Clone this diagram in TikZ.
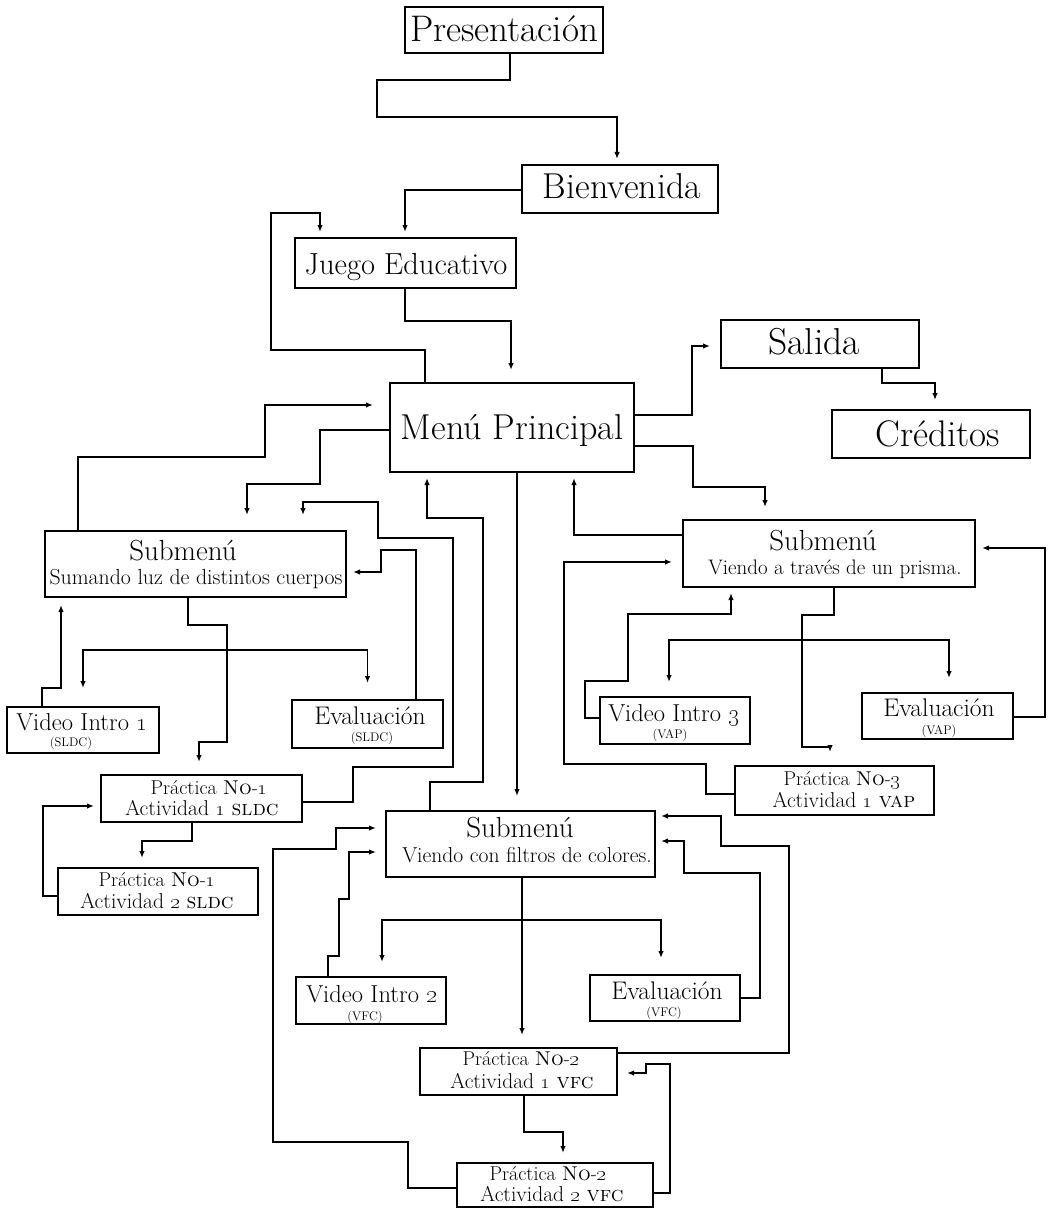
\documentclass[tikz,border=0pt]{standalone}
\usetikzlibrary{arrows.meta}

\newcommand{\fs}[1]{\fontsize{#1}{#1}\selectfont}

\tikzset{
  boxnode/.style={draw, line width=2.1pt, inner sep=0pt, outer sep=0pt},
  lbl/.style={anchor=base, inner sep=0pt, outer sep=0pt},
  small/.style={lbl, font=\fs{12.5}},
  conn/.style={line width=1.8pt},
  arr/.style={conn, -{Latex[length=7pt,width=5.5pt]}, shorten >=#1},
  arr/.default=10pt
}

\begin{document}
\begin{tikzpicture}[x=1pt, y=-1pt]
\fill[white] (0,0) rectangle (1050,1209);
\useasboundingbox (0,0) rectangle (1050,1209);

% ---------- boxes ----------
\node[boxnode, minimum width=198pt, minimum height=46pt] (pres)   at (504,30)     {};
\node[boxnode, minimum width=196pt, minimum height=48pt] (bien)   at (620,189)    {};
\node[boxnode, minimum width=221pt, minimum height=50pt] (juego)  at (405.5,263)  {};
\node[boxnode, minimum width=244pt, minimum height=89pt] (menu)   at (512,427.5)  {};
\node[boxnode, minimum width=198pt, minimum height=48pt] (salida) at (820,344)    {};
\node[boxnode, minimum width=198pt, minimum height=48pt] (cred)   at (931,434)    {};

\node[boxnode, minimum width=301pt, minimum height=66pt] (subA) at (195.5,564)  {};
\node[boxnode, minimum width=292pt, minimum height=67pt] (subB) at (829,553.5)  {};
\node[boxnode, minimum width=269pt, minimum height=66pt] (subC) at (520.5,844)  {};

\node[boxnode, minimum width=152pt, minimum height=46pt] (vi1) at (83,730)      {};
\node[boxnode, minimum width=151pt, minimum height=48pt] (evA) at (367.5,724)   {};
\node[boxnode, minimum width=201pt, minimum height=47pt] (p11) at (201.5,798.5) {};
\node[boxnode, minimum width=200pt, minimum height=47pt] (p12) at (158,891.5)   {};

\node[boxnode, minimum width=150pt, minimum height=47pt] (vi3) at (675,720.5)   {};
\node[boxnode, minimum width=151pt, minimum height=46pt] (evB) at (937.5,716)   {};
\node[boxnode, minimum width=199pt, minimum height=49pt] (p3)  at (834.5,790.5) {};

\node[boxnode, minimum width=150pt, minimum height=47pt] (vi2) at (371,1000.5)  {};
\node[boxnode, minimum width=150pt, minimum height=46pt] (evC) at (665,998)     {};
\node[boxnode, minimum width=197pt, minimum height=47pt] (p21) at (518.5,1071.5){};
\node[boxnode, minimum width=196pt, minimum height=44pt] (p22) at (555,1185)    {};

% ---------- texts ----------
\node[lbl, font=\fs{37}]   (pres-t)   at (504,42)  {Presentación};
\node[lbl, font=\fs{36}]   (bien-t)   at (622,199) {Bienvenida};
\node[lbl, font=\fs{30.5}] (juego-t)  at (406,274) {Juego Educativo};
\node[lbl, font=\fs{36}]   (menu-t)   at (512,439) {Menú Principal};
\node[lbl, font=\fs{37.5}] (salida-t) at (814,354) {Salida};
\node[lbl, font=\fs{37}]   (cred-t)   at (938,446) {Créditos};

\node[lbl, font=\fs{29}]   (subA-t) at (183,560) {Submenú};
\node[lbl, font=\fs{21.8}] (subA-s) at (196,584) {Sumando luz de distintos cuerpos};
\node[lbl, font=\fs{29}]   (subB-t) at (823,550) {Submenú};
\node[lbl, font=\fs{21}]   (subB-s) at (835,574) {Viendo a través de un prisma.};
\node[lbl, font=\fs{29}]   (subC-t) at (520,837) {Submenú};
\node[lbl, font=\fs{21.6}] (subC-s) at (527,862) {Viendo con filtros de colores.};

\node[lbl, font=\fs{24.5}] (vi1-t) at (82,730)  {Video Intro \oldstylenums{1}};
\node[small]               (vi1-s) at (71,746)  {(SLDC)};
\node[lbl, font=\fs{25.5}] (evA-t) at (370,724) {Evaluación};
\node[small]               (evA-s) at (372,741) {(SLDC)};
\node[lbl, font=\fs{24.5}] (vi3-t) at (674,721) {Video Intro \oldstylenums{3}};
\node[small]               (vi3-s) at (670,738) {(VAP)};
\node[lbl, font=\fs{25.5}] (evB-t) at (939,716) {Evaluación};
\node[small]               (evB-s) at (939,734) {(VAP)};
\node[lbl, font=\fs{24.5}] (vi2-t) at (372,1002) {Video Intro \oldstylenums{2}};
\node[small]               (vi2-s) at (365,1020) {(VFC)};
\node[lbl, font=\fs{25.5}] (evC-t) at (667,999) {Evaluación};
\node[small]               (evC-s) at (664,1016) {(VFC)};

\node[lbl, font=\fs{20}]   (p11-t) at (209,794)  {Práctica \textsc{No}-\oldstylenums{1}};
\node[lbl, font=\fs{21.5}] (p11-s) at (202,815)  {Actividad \oldstylenums{1} \textsc{sldc}};
\node[lbl, font=\fs{20}]   (p12-t) at (157,886)  {Práctica \textsc{No}-\oldstylenums{1}};
\node[lbl, font=\fs{21.5}] (p12-s) at (157,908)  {Actividad \oldstylenums{2} \textsc{sldc}};
\node[lbl, font=\fs{20}]   (p21-t) at (521,1065) {Práctica \textsc{No}-\oldstylenums{2}};
\node[lbl, font=\fs{21.5}] (p21-s) at (522,1088) {Actividad \oldstylenums{1} \textsc{vfc}};
\node[lbl, font=\fs{20}]   (p22-t) at (548,1180) {Práctica \textsc{No}-\oldstylenums{2}};
\node[lbl, font=\fs{21.5}] (p22-s) at (552,1201) {Actividad \oldstylenums{2} \textsc{vfc}};
\node[lbl, font=\fs{20}]   (p3-t)  at (842,785)  {Práctica \textsc{No}-\oldstylenums{3}};
\node[lbl, font=\fs{21.5}] (p3-s)  at (844,807)  {Actividad \oldstylenums{1} \textsc{vap}};

% ---------- upper chain ----------
\draw[arr=6pt]  (pres.south -| 510,0) -- (510,80) -- (377,80) -- (377,117) -- (617,117) -- (bien.north -| 617,0);
\draw[arr=6pt]  (bien.west |- 0,190) -- (405,190) -- (juego.north -| 405,0);
\draw[arr=13pt] (juego.south -| 405,0) -- (405,321) -- (511,321) -- (menu.north -| 511,0);
\draw[arr=6pt]  (menu.north -| 425,0) -- (425,350) -- (271,350) -- (271,213) -- (320,213) -- (juego.north -| 320,0);
\draw[arr=11pt] (menu.east |- 0,415) -- (692,415) -- (692,346) -- (salida.west |- 0,346);
\draw[arr=10pt] (salida.south -| 882,0) -- (882,383) -- (935,383) -- (cred.north -| 935,0);

% ---------- main menu and submenus ----------
\draw[arr=13pt] (menu.east |- 0,446) -- (693,446) -- (693,487) -- (765,487) -- (subB.north -| 765,0);
\draw[arr=6pt]  (subB.west |- 0,535) -- (574,535) -- (menu.south -| 574,0);
\draw[arr=17pt] (subA.north -| 78,0) -- (78,457) -- (265,457) -- (265,405) -- (menu.west |- 0,405);
\draw[arr=16pt] (menu.west |- 0,430) -- (320,430) -- (320,484) -- (247,484) -- (subA.north -| 247,0);
\draw[arr=6pt]  (subC.north -| 430,0) -- (430,782) -- (483,782) -- (483,518) -- (427,518) -- (menu.south -| 427,0);
\draw[arr=15pt] (menu.south -| 517,0) -- (subC.north -| 517,0);

% ---------- branch: Sumando luz de distintos cuerpos ----------
\draw[arr=13pt] (subA.south -| 188,0) -- (188,625) -- (227,625) -- (227,742) -- (199,742) -- (p11.north -| 199,0);
\coordinate (splitA) at (227,650);
\draw[arr=19pt] (splitA) -| (vi1.north);
\draw[arr=17pt] (splitA) -| (evA.north);
\draw[arr=8pt]  (vi1.north -| 42,0) -- (42,688) -- (61,688) -- (subA.south -| 61,0);
\draw[arr=7pt]  (evA.north -| 416,0) -- (416,550) -- (381,550) -- (381,572) -- (subA.east |- 0,572);
\draw[arr=16pt] (p11.east |- 0,802) -- (353,802) -- (353,767) -- (453,767) -- (453,538) -- (378,538) -- (378,502) -- (303,502) -- (subA.north -| 303,0);
\draw[arr=10pt] (p11.south -| 192,0) -- (192,841) -- (142,841) -- (p12.north -| 142,0);
\draw[arr=7pt]  (p12.west |- 0,896) -- (43,896) -- (43,806) -- (p11.west |- 0,806);

% ---------- branch: Viendo a traves de un prisma ----------
\draw[arr=14pt] (subB.south -| 834,0) -- (834,615) -- (802,615) -- (802,747) -- (830,747) -- (p3.north -| 830,0);
\coordinate (splitB) at (802,640);
\draw[arr=15pt] (splitB) -- (669,640) -- (vi3.north -| 669,0);
\draw[arr=15pt] (splitB) -- (949,640) -- (evB.north -| 949,0);
\draw[arr=6pt]  (vi3.west |- 0,718) -- (585,718) -- (585,681) -- (628,681) -- (628,614) -- (731,614) -- (subB.south -| 731,0);
\draw[arr=11pt] (p3.west |- 0,794) -- (706,794) -- (706,764) -- (564,764) -- (564,562) -- (subB.west |- 0,562);
\draw[arr=7pt]  (evB.east |- 0,717) -- (1045,717) -- (1045,548) -- (subB.east |- 0,548);

% ---------- branch: Viendo con filtros de colores ----------
\draw[arr=13pt] (subC.south -| 522,0) -- (p21.north -| 522,0);
\coordinate (splitC) at (522,920);
\draw[arr=15pt] (splitC) -- (382,920) -- (vi2.north -| 382,0);
\draw[arr=17pt] (splitC) -- (661,920) -- (evC.north -| 661,0);
\draw[arr=10pt] (vi2.north -| 328,0) -- (328,956) -- (339,956) -- (339,899) -- (349,899) -- (349,852) -- (subC.west |- 0,852);
\draw[arr=10pt] (p22.west |- 0,1188) -- (408,1188) -- (408,1142) -- (273,1142) -- (273,849) -- (336,849) -- (336,828) -- (subC.west |- 0,828);
\draw[arr=6pt]  (evC.east |- 0,998) -- (760,998) -- (760,873) -- (684,873) -- (684,841) -- (subC.east |- 0,841);
\draw[arr=6pt]  (p21.east |- 0,1053) -- (789,1053) -- (789,846) -- (721,846) -- (721,816) -- (subC.east |- 0,816);
\draw[arr=10pt] (p21.south -| 524,0) -- (524,1132) -- (563,1132) -- (p22.north -| 563,0);
\draw[arr=10pt] (p22.east |- 0,1193) -- (670,1193) -- (670,1064) -- (646,1064) -- (646,1073) -- (p21.east |- 0,1073);
\end{tikzpicture}
\end{document}
